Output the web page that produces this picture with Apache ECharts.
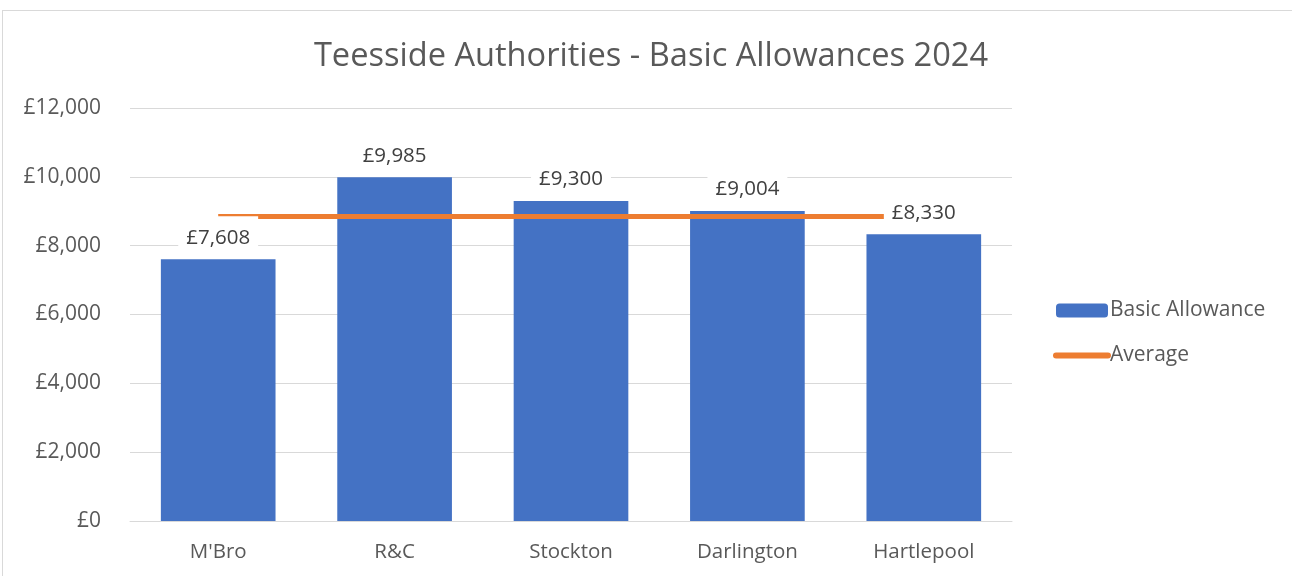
<!DOCTYPE html>
<html>
<head>
<meta charset="utf-8">
<script src="https://cdn.jsdelivr.net/npm/echarts@6/dist/echarts.min.js"></script>
<style>
html,body{margin:0;padding:0;background:#fff;overflow:hidden;}
#frame{position:absolute;left:2px;top:10px;width:1400px;height:700px;border:1px solid #d9d9d9;box-sizing:border-box;}
#chart{position:absolute;left:0;top:0;width:1292px;height:576px;}
</style>
</head>
<body>
<div id="frame"></div>
<div id="chart"></div>
<script>
const categories = ["M'Bro", "R&C", "Stockton", "Darlington", "Hartlepool"];
const basicAllowance = [7608, 9985, 9300, 9004, 8330];
const average = [8845, 8845, 8845, 8845, 8845];
const yTicks = { min: 0, max: 12000, interval: 2000 };

const FONT = '"Open Sans", sans-serif';
const fmt = v => '£' + Number(v).toLocaleString('en-GB');

const chart = echarts.init(document.getElementById('chart'), null, { renderer: 'canvas' });
chart.setOption({
  animation: false,
  backgroundColor: 'transparent',
  title: {
    text: 'Teesside Authorities - Basic Allowances 2024',
    left: 646, top: 35, textAlign: 'center',
    textStyle: { fontFamily: FONT, fontSize: 32.6, fontWeight: 'normal', color: '#595959' }
  },
  legend: {
    orient: 'vertical',
    left: 1048, top: 295,
    itemWidth: 52, itemHeight: 14, itemGap: 24,
    data: [
      { name: 'Basic Allowance' },
      { name: 'Average', itemStyle: { color: 'rgba(0,0,0,0)', borderWidth: 0 }, lineStyle: { width: 6, cap: 'round', color: '#ED7D31' } }
    ],
    textStyle: { fontFamily: FONT, fontSize: 21, color: '#595959', padding: [0, 0, 0, -3] }
  },
  grid: { left: 130, right: 280, top: 108, bottom: 55, containLabel: false },
  xAxis: {
    type: 'category', data: categories,
    axisLine: { lineStyle: { color: '#d9d9d9', width: 1 } },
    axisTick: { show: false },
    axisLabel: { fontFamily: FONT, fontSize: 20.5, color: '#595959', margin: 21 }
  },
  yAxis: {
    type: 'value', min: yTicks.min, max: yTicks.max, interval: yTicks.interval,
    axisLine: { show: false }, axisTick: { show: false },
    splitLine: { lineStyle: { color: '#d9d9d9', width: 1 } },
    axisLabel: { fontFamily: FONT, fontSize: 21, color: '#595959', margin: 29, formatter: fmt }
  },
  series: [
    {
      name: 'Basic Allowance', type: 'bar', data: basicAllowance,
      barWidth: '65%', z: 2,
      itemStyle: { color: '#4472C4' }
    },
    {
      name: 'Average', type: 'line', data: average,
      symbol: 'none', z: 3,
      lineStyle: { color: '#ED7D31', width: 5 },
      itemStyle: { color: '#ED7D31' }
    },
    {
      name: 'labels', type: 'bar', data: basicAllowance,
      barWidth: '65%', barGap: '-100%', z: 10,
      itemStyle: { color: 'rgba(0,0,0,0)' },
      label: {
        show: true, position: 'top', distance: 8,
        formatter: p => fmt(p.value),
        fontFamily: FONT, fontSize: 20.5, color: '#404040',
        backgroundColor: '#ffffff', padding: [11, 8, 3, 8]
      },
      silent: true
    }
  ]
});
</script>
</body>
</html>
